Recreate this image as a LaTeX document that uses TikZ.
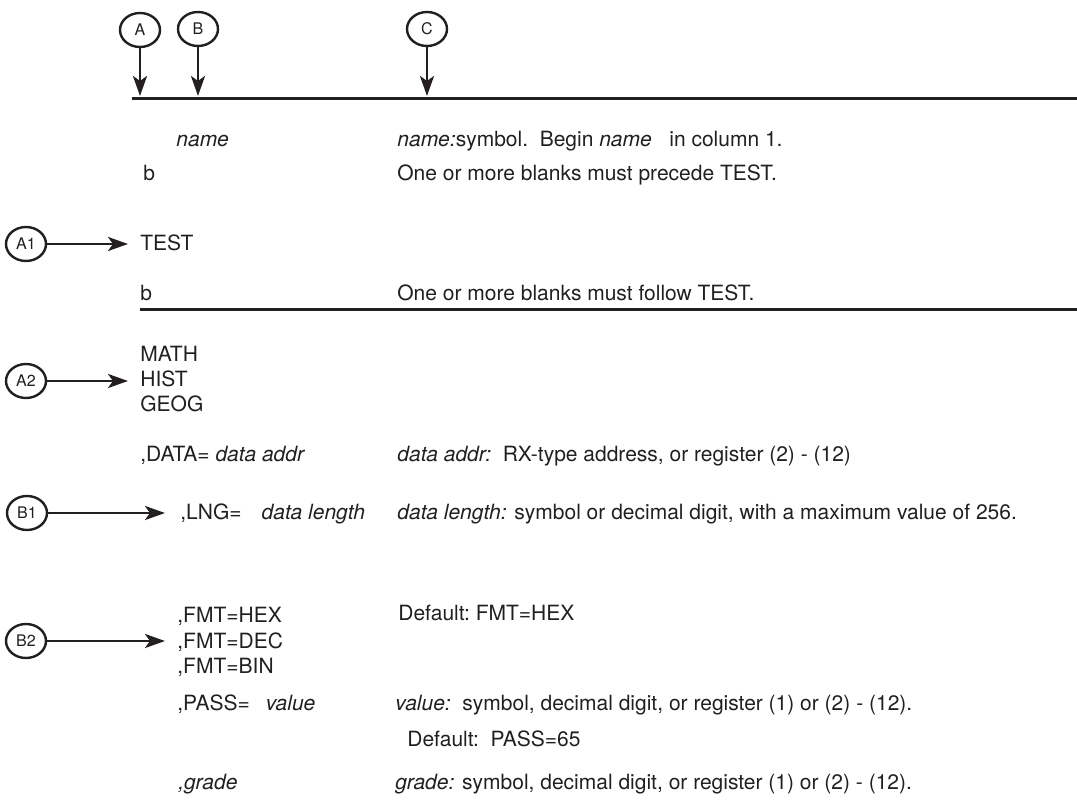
\documentclass[tikz,border=0pt]{standalone}
\usepackage{fontspec}
\setmainfont{TeX Gyre Heros}
\usetikzlibrary{arrows.meta}
\usetikzlibrary{shapes.geometric}
\usetikzlibrary{positioning}
\definecolor{ink}{HTML}{231F20}

\begin{document}
\begin{tikzpicture}[
      x=0.5pt, y=-0.5pt,
      font=\fontsize{10.5}{12.5}\selectfont,
      tag/.style ={ellipse, draw=ink, line width=1.2pt, minimum width=20pt, minimum height=17pt, inner sep=0pt, text=ink, font=\fontsize{8}{9}\selectfont},
      txt/.style ={anchor=base west, inner sep=0pt, text=ink},
      rule/.style ={draw=ink, line width=1.5pt},
      arr/.style ={-{Stealth[length=10pt,width=7pt,inset=2.5pt]}, line width=1.4pt, draw=ink}
    ]
    \useasboundingbox (0,0) rectangle (1077,812) ;

    \node [tag] (a) at (140,30) {A} ;
    \node [tag] (b) at (198,29) {B} ;
    \node [tag] (c) at (427,29) {C} ;
    \coordinate (top west) at (132,99) ;
    \coordinate (top east) at (1077,99) ;
    \draw [rule] (top west) -- (top east) ;
    \draw [arr, shorten >=1.5pt] (a) -- (a |- top west) ;
    \draw [arr, shorten >=1.5pt] (b) -- (b |- top west) ;
    \draw [arr, shorten >=1.5pt] (c) -- (c |- top west) ;

    \node [txt] (name) at (176,147) {\textit{name}} ;
    \node [txt] (blank1) at (143,181) {b} ;
    \node [tag] (a1) at (26,244) {A1} ;
    \node [txt] (test) at (140,251) {TEST} ;
    \node [txt] (blank2) at (140,301) {b} ;
    \coordinate (mid west) at (140,310) ;
    \coordinate (mid east) at (1077,310) ;
    \draw [rule] (mid west) -- (mid east) ;
    \node [txt] (math) at (140,362) {MATH} ;
    \node [txt] (hist) at (140,387) {HIST} ;
    \node [txt] (geog) at (140,412) {GEOG} ;
    \node [tag] (a2) at (26,381) {A2} ;
    \node [txt] (data) at (140,462) {,DATA= \textit{data addr}} ;
    \node [tag] (b1) at (27,513) {B1} ;
    \node [txt] (lng) at (180,520) {,LNG=\hspace{10pt}\textit{data length}} ;
    \node [txt] (hex) at (177,623) {,FMT=HEX} ;
    \node [txt] (dec) at (177,648) {,FMT=DEC} ;
    \node [txt] (bin) at (177,673) {,FMT=BIN} ;
    \node [tag] (b2) at (26,641) {B2} ;
    \node [txt] (pass) at (177,711) {,PASS=\hspace{8pt}\textit{value}} ;
    \node [txt] (grade) at (178,789) {\textit{,grade}} ;

    \node [txt] (name txt) at (397,147) {\textit{name:}symbol.\ \ Begin \textit{name}\ \ \ in column 1.} ;
    \node [txt] (prec txt) at (397,181) {One or more blanks must precede TEST.} ;
    \node [txt] (foll txt) at (397,301) {One or more blanks must follow TEST.} ;
    \node [txt] (data txt) at (397,462) {\textit{data addr:}\ \ RX-type address, or register (2) - (12)} ;
    \node [txt] (lng txt) at (397,520) {\textit{data length:} symbol or decimal digit, with a maximum value of 256.} ;
    \node [txt] (hex txt) at (398,621) {Default:\ FMT=HEX} ;
    \node [txt] (pass txt) at (395,711) {\textit{value:}\ \ symbol, decimal digit, or register (1) or (2) - (12).} ;
    \node [txt] (dflt txt) at (407,746) {Default:\ \ PASS=65} ;
    \node [txt] (grade txt) at (395,789) {\textit{grade:} symbol, decimal digit, or register (1) or (2) - (12).} ;

    \draw [arr, shorten >=6pt] (a1) -- (a1 -| test.west) ;
    \draw [arr, shorten >=6pt] (a2) -- (a2 -| hist.west) ;
    \draw [arr, shorten >=7.5pt] (b1) -- (b1 -| lng.west) ;
    \draw [arr, shorten >=6pt] (b2) -- (b2 -| dec.west) ;
  \end{tikzpicture}
\end{document}
